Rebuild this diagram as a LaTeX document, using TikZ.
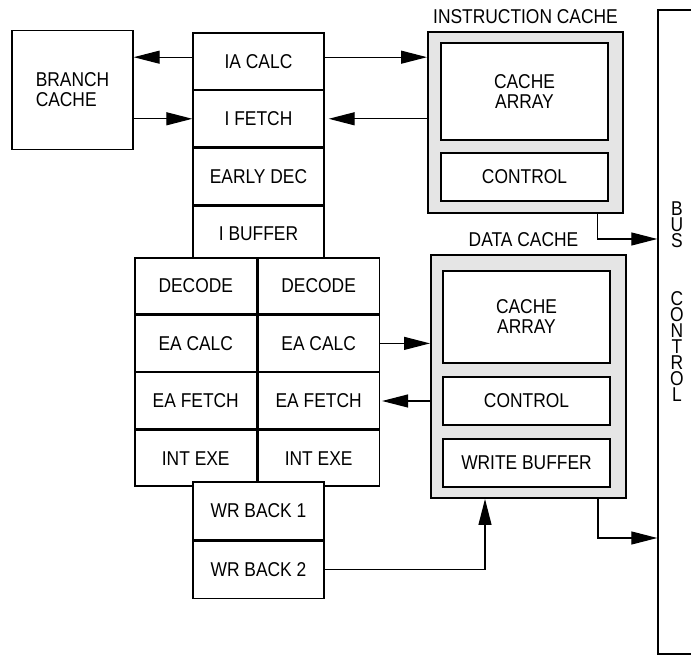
\documentclass[tikz,border=0pt]{standalone}
\usepackage{fontspec}
\setmainfont{Liberation Sans}[FakeStretch=0.87]
\usetikzlibrary{arrows.meta,positioning}

\begin{document}
\begin{tikzpicture}[x=0.5pt, y=-0.5pt,
  every node/.style={font=\fontsize{10}{10}\selectfont, align=center},
  blk/.style={draw, line width=0.7pt, fill=white, inner sep=0pt},
  stage/.style={blk, minimum width=65.5pt, minimum height=28.1pt},
  half/.style={blk, minimum width=60.75pt, minimum height=28pt},
  cache/.style={draw, line width=1pt, fill=gray!20, inner sep=0pt, minimum width=97.5pt},
  part/.style={blk, minimum width=83.5pt, minimum height=24pt},
  arr/.style={-{Triangle[length=13pt,width=6.5pt]}, line width=0.6pt}]
\clip (0,0) rectangle (691,656);

% branch cache
\node[blk, minimum width=60.5pt, minimum height=59.5pt, align=left] (branch) at (72.5,90) {BRANCH\\CACHE};

% instruction fetch stages
\node[stage] (iacalc) at (258.5,61.2) {IA CALC};
\node[stage, below=0pt of iacalc] (ifetch) {I FETCH};
\node[stage, below=0pt of ifetch] (earlydec) {EARLY DEC};
\node[stage, below=0pt of earlydec] (ibuffer) {I BUFFER};

% two operand pipelines
\node[half] (decode1) at (195.75,286) {DECODE};
\node[half, right=0pt of decode1] (decode2) {DECODE};
\node[half, below=0pt of decode1] (eacalc1) {EA CALC};
\node[half, right=0pt of eacalc1] (eacalc2) {EA CALC};
\node[half, below=0pt of eacalc1] (eafetch1) {EA FETCH};
\node[half, right=0pt of eafetch1] (eafetch2) {EA FETCH};
\node[half, below=0pt of eafetch1] (intexe1) {INT EXE};
\node[half, right=0pt of intexe1] (intexe2) {INT EXE};

% write back
\node[stage, minimum height=28.75pt] (wrback1) at (258.5,510.75) {WR BACK 1};
\node[stage, minimum height=28.75pt, below=0pt of wrback1] (wrback2) {WR BACK 2};

% instruction cache
\node[cache, minimum height=90.5pt, label={above:INSTRUCTION CACHE}] (icache) at (525.5,122.5) {};
\node[part, minimum height=48.5pt] (icarray) at (524.5,91.5) {CACHE\\ARRAY};
\node[part] (icctrl) at (524.5,177) {CONTROL};

% data cache
\node[cache, minimum height=121.5pt, label={[xshift=-2.5pt]above:DATA CACHE}] (dcache) at (528.5,376.5) {};
\node[part, minimum height=46pt] (dcarray) at (526.5,317) {CACHE\\ARRAY};
\node[part] (dcctrl) at (526.5,401) {CONTROL};
\node[part] (wbuf) at (526.5,463) {WRITE BUFFER};

% bus control
\node[draw, line width=0.7pt, minimum width=21pt, minimum height=322pt, inner sep=0pt] (bus) at (679,332) {};
\node[font=\fontsize{10}{8}\selectfont] (buslbl) at (677,302) {B\\U\\S\\[21pt]C\\O\\N\\T\\R\\O\\L};

% connectors
\draw[arr] ([yshift=2pt]iacalc.west) -- ([yshift=2pt]iacalc.west -| branch.east);
\draw[arr] (branch.east |- ifetch) -- (ifetch.west);
\draw[arr] ([yshift=2pt]iacalc.east) -- ([yshift=2pt]iacalc.east -| icache.west);
\draw[arr, shorten >=2pt] (icache.west |- ifetch) -- (ifetch.east);
\draw[arr] ([xshift=36pt]icache.south) |- ([yshift=-12.5pt]icache.south -| bus.west);
\draw[arr] (eacalc2.east) -- (eacalc2 -| dcache.west);
\draw[arr, shorten >=1pt] (dcache.west |- dcctrl) -- (eafetch2.east |- dcctrl);
\draw[arr] (wrback2.east) -| ([xshift=-21.75pt]dcache.south);
\draw[arr] ([xshift=34.75pt]dcache.south) |- ([yshift=-19.5pt]dcache.south -| bus.west);
\end{tikzpicture}
\end{document}
